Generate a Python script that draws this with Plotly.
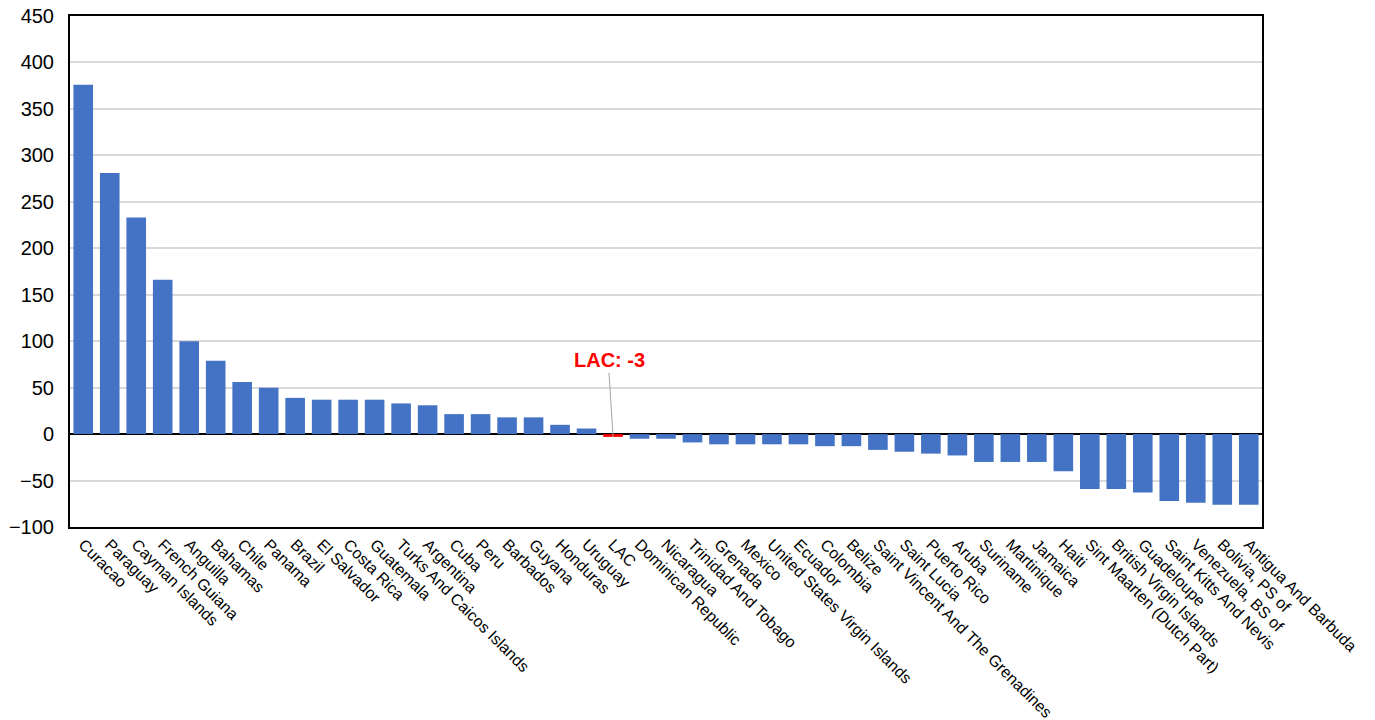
import plotly.graph_objects as go

countries = [
    "Curacao", "Paraguay", "Cayman Islands", "French Guiana", "Anguilla", "Bahamas",
    "Chile", "Panama", "Brazil", "El Salvador", "Costa Rica", "Guatemala",
    "Turks And Caicos Islands", "Argentina", "Cuba", "Peru", "Barbados", "Guyana",
    "Honduras", "Uruguay", "LAC", "Dominican Republic", "Nicaragua",
    "Trinidad And Tobago", "Grenada", "Mexico", "United States Virgin Islands",
    "Ecuador", "Colombia", "Belize", "Saint Vincent And The Grenadines",
    "Saint Lucia", "Puerto Rico", "Aruba", "Suriname", "Martinique", "Jamaica",
    "Haiti", "Sint Maarten (Dutch Part)", "British Virgin Islands", "Guadeloupe",
    "Saint Kitts And Nevis", "Venezuela, BS of", "Bolivia, PS of",
    "Antigua And Barbuda",
]
values = [
    376, 281, 233, 166, 100, 79,
    56, 50, 39, 37, 37, 37,
    33, 31, 21.5, 21.5, 18, 18,
    10, 6, -3, -5, -5,
    -9, -11, -11, -11,
    -11, -13, -13, -17,
    -19, -21, -23, -30, -30, -30,
    -40, -59, -59, -63,
    -72, -74, -76,
    -76,
]
highlight = "LAC"
bar_color = "#4472C4"
highlight_color = "#FF0000"
y_ticks = list(range(-100, 451, 50))

colors = [highlight_color if c == highlight else bar_color for c in countries]
lac_value = values[countries.index(highlight)]

fig = go.Figure(
    go.Bar(
        x=countries,
        y=values,
        marker=dict(color=colors, line=dict(width=0)),
        hoverinfo="x+y",
    )
)

fig.add_annotation(
    x=highlight,
    y=lac_value,
    text=f"<b>{highlight}: {lac_value:g}</b>",
    showarrow=True,
    arrowhead=0,
    arrowwidth=1,
    arrowcolor="#A6A6A6",
    ax=-4,
    ay=-64,
    yanchor="bottom",
    font=dict(color="#FF0000", size=20, family="Liberation Sans, Arial, sans-serif"),
)

fig.update_layout(
    width=1375,
    height=720,
    margin=dict(l=70, r=113, t=16, b=193, autoexpand=False),
    paper_bgcolor="white",
    plot_bgcolor="white",
    bargap=0.26,
    showlegend=False,
    font=dict(family="Liberation Sans, Arial, sans-serif", color="black"),
)
fig.update_xaxes(
    tickangle=45,
    tickfont=dict(size=16),
    showline=True,
    linecolor="black",
    linewidth=2,
    mirror=True,
    showgrid=False,
    ticks="",
    automargin=False,
)
fig.update_yaxes(
    range=[-100, 450],
    tickvals=y_ticks,
    tickfont=dict(size=20),
    ticklabelstandoff=10,
    ticklabeloverflow="allow",
    showgrid=True,
    gridcolor="#D9D9D9",
    gridwidth=1.5,
    zeroline=True,
    zerolinecolor="black",
    zerolinewidth=2,
    showline=True,
    linecolor="black",
    linewidth=2,
    mirror=True,
    ticks="",
    automargin=False,
)

fig.write_html(
    "out.html",
    config={"displayModeBar": False},
    post_script="document.body.style.margin='0';document.body.style.overflow='hidden';",
)
